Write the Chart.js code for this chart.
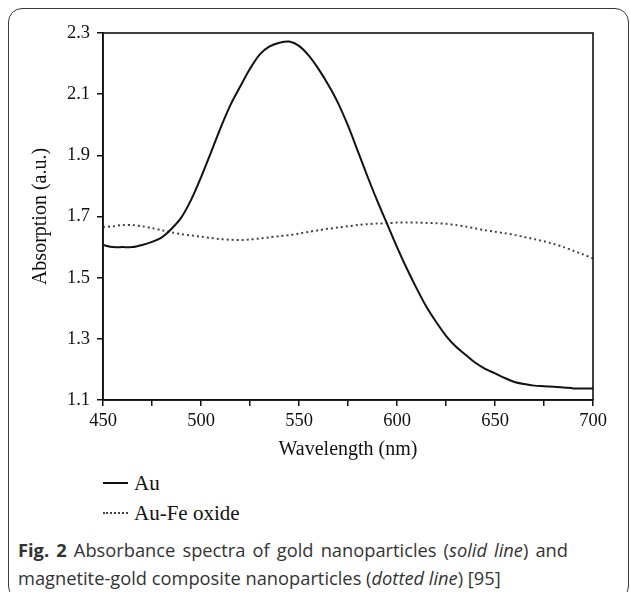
<!DOCTYPE html>
<html>
<head>
<meta charset="utf-8">
<script src="https://cdn.jsdelivr.net/npm/chart.js@4"></script>
<style>
  html, body { margin: 0; padding: 0; background: #fff; width: 630px; height: 592px; overflow: hidden; }
  #frame { position: absolute; left: 8px; top: 8px; width: 621px; height: 592px; box-sizing: border-box;
           border: 1.5px solid #3a3a3a; border-radius: 14px; }
  #wrap { position: absolute; left: 0; top: 0; width: 630px; height: 470px; }
  .leg { position: absolute; left: 103px; font-family: "Liberation Serif", serif; font-size: 21px; color: #111; line-height: 24px; }
  .leg span.s { display: inline-block; width: 25px; vertical-align: middle; margin-right: 6px; position: relative; top: -2px; }
  #cap { position: absolute; left: 18px; top: 536px; width: 550px; text-align: justify; font-family: "Open Sans", sans-serif; font-size: 18.3px;
         line-height: 28px; color: #333; }
</style>
</head>
<body>
<div id="frame"></div>
<div id="wrap"><canvas id="c" width="630" height="470"></canvas></div>
<div class="leg" style="top:471px;"><span class="s" style="border-top:2px solid #111;"></span>Au</div>
<div class="leg" style="top:501px;"><span class="s" style="border-top:2px dotted #444;"></span>Au-Fe oxide</div>
<div id="cap"><b>Fig. 2</b> Absorbance spectra of gold nanoparticles (<i>solid line</i>) and magnetite-gold composite nanoparticles (<i>dotted line</i>) [95]</div>
<script>
const wavelengths = [450,455,460,465,470,475,480,485,490,495,500,505,510,515,520,525,530,535,540,545,550,555,560,565,570,575,580,585,590,595,600,605,610,615,620,625,630,635,640,645,650,655,660,665,670,675,680,685,690,695,700];
const auValues = [1.607,1.600,1.600,1.600,1.607,1.617,1.632,1.660,1.697,1.755,1.828,1.908,1.990,2.064,2.125,2.183,2.230,2.256,2.268,2.272,2.258,2.226,2.182,2.130,2.070,1.997,1.914,1.830,1.750,1.675,1.600,1.530,1.465,1.405,1.355,1.310,1.275,1.248,1.222,1.202,1.187,1.172,1.159,1.152,1.147,1.145,1.143,1.141,1.138,1.138,1.138];
const auFeValues = [1.665,1.668,1.672,1.672,1.668,1.662,1.655,1.648,1.642,1.638,1.634,1.630,1.626,1.624,1.623,1.625,1.628,1.632,1.636,1.639,1.644,1.650,1.655,1.660,1.664,1.668,1.672,1.675,1.677,1.678,1.680,1.680,1.680,1.679,1.678,1.676,1.672,1.667,1.661,1.655,1.650,1.645,1.640,1.633,1.626,1.619,1.610,1.600,1.588,1.576,1.563];
const xTickValues = [450,475,500,525,550,575,600,625,650,675,700];
const xLabelValues = [450,500,550,600,650,700];
const yTickValues = [1.1,1.3,1.5,1.7,1.9,2.1,2.3];

const boxPlugin = {
  id: 'box',
  afterDraw(chart) {
    const a = chart.chartArea, ctx = chart.ctx;
    ctx.save();
    ctx.strokeStyle = '#111';
    ctx.lineWidth = 1.6;
    ctx.strokeRect(a.left, a.top, a.right - a.left, a.bottom - a.top);
    ctx.restore();
  }
};

const tickFont = { family: 'Liberation Serif', size: 18.5 };
const titleFont = { family: 'Liberation Serif', size: 20 };

new Chart(document.getElementById('c'), {
  type: 'line',
  data: {
    datasets: [
      { label: 'Au', data: wavelengths.map((w, i) => ({ x: w, y: auValues[i] })),
        borderColor: '#111', borderWidth: 2, pointRadius: 0, tension: 0.3, fill: false },
      { label: 'Au-Fe oxide', data: wavelengths.map((w, i) => ({ x: w, y: auFeValues[i] })),
        borderColor: '#444', borderWidth: 2, borderDash: [2, 3], pointRadius: 0, tension: 0.3, fill: false }
    ]
  },
  options: {
    responsive: false,
    animation: false,
    layout: { padding: { left: 27, right: 37, top: 33, bottom: 0 } },
    plugins: { legend: { display: false }, tooltip: { enabled: false } },
    scales: {
      x: {
        type: 'linear', min: 450, max: 700,
        afterBuildTicks: s => { s.ticks = xTickValues.map(v => ({ value: v })); },
        afterFit: s => { s.height = 70; },
        ticks: { autoSkip: false, maxRotation: 0, padding: 4, color: '#111', font: tickFont,
                 callback: v => xLabelValues.includes(v) ? String(v) : '' },
        grid: { drawOnChartArea: false, tickLength: 6, color: '#111', lineWidth: 1.5 },
        border: { color: '#111', width: 1.6 },
        title: { display: true, text: 'Wavelength (nm)', color: '#111', font: titleFont, padding: { top: 0, bottom: 8 } }
      },
      y: {
        type: 'linear', min: 1.1, max: 2.3,
        afterBuildTicks: s => { s.ticks = yTickValues.map(v => ({ value: v })); },
        afterFit: s => { s.width = 76; },
        ticks: { padding: 7, color: '#111', font: tickFont, callback: v => Number(v).toFixed(1) },
        grid: { drawOnChartArea: false, tickLength: 6, color: '#111', lineWidth: 1.5 },
        border: { color: '#111', width: 1.6 },
        title: { display: true, text: 'Absorption (a.u.)', color: '#111', font: titleFont, padding: 2 }
      }
    }
  },
  plugins: [boxPlugin]
});
</script>
</body>
</html>
